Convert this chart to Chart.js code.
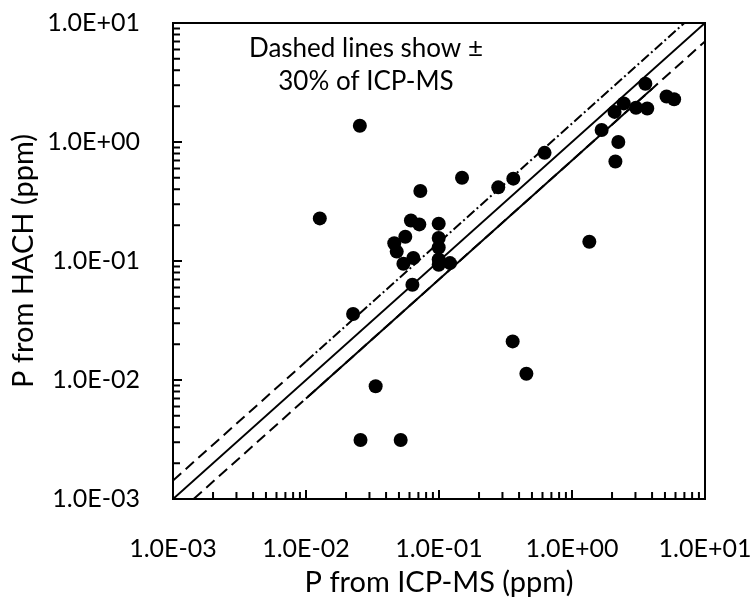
<!DOCTYPE html>
<html>
<head>
<meta charset="utf-8">
<script src="https://cdn.jsdelivr.net/npm/chart.js@4"></script>
<style>
  html, body { margin: 0; padding: 0; background: #fff; }
</style>
</head>
<body>
<canvas id="chart" width="754" height="600"></canvas>
<script>
// P from ICP-MS (x) and P from HACH (y), ppm
const icpValues = [0.0254, 0.0127, 0.0226, 0.0334, 0.0257, 0.0515, 0.0724, 0.149, 0.279, 0.362,
  0.0615, 0.0711, 0.0995, 0.0558, 0.0461, 0.0481, 0.0995, 0.0995, 0.0995, 0.0995,
  0.121, 0.0641, 0.054, 0.0631, 0.358, 0.454, 1.35, 0.622, 1.67, 2.23,
  2.12, 2.09, 2.45, 3.03, 3.68, 3.56, 5.14, 5.86];
const hachValues = [1.37, 0.228, 0.0359, 0.00887, 0.00313, 0.00313, 0.388, 0.501, 0.416, 0.492,
  0.219, 0.203, 0.206, 0.160, 0.141, 0.120, 0.156, 0.130, 0.103, 0.093,
  0.096, 0.106, 0.0948, 0.0632, 0.0211, 0.0113, 0.145, 0.811, 1.26, 1.0,
  0.686, 1.79, 2.11, 1.94, 1.91, 3.09, 2.41, 2.29];

const decadeTicks = [0.001, 0.01, 0.1, 1, 10];
const tickLabels = ['1.0E-03', '1.0E-02', '1.0E-01', '1.0E+00', '1.0E+01'];

// reference lines y = k * x
const upperFactor = 1.43;
const lowerFactor = 0.7;
const axisMin = 0.001, axisMax = 10;

const points = icpValues.map((v, i) => ({x: v, y: hachValues[i]}));
function refLine(k, x0, x1){
  return [{x: x0, y: k * x0}, {x: x1, y: k * x1}];
}
function lineSet(data, dash){
  return {type: 'line', data, borderColor: '#000', borderWidth: 2, borderDash: dash,
    pointRadius: 0, pointHoverRadius: 0, fill: false, tension: 0};
}

const frame = {
  id: 'frame',
  afterDraw(chart){
    const {ctx, chartArea: a, scales: {x, y}} = chart;
    ctx.save();
    ctx.strokeStyle = '#000';
    ctx.lineWidth = 2;
    ctx.strokeRect(a.left, a.top, a.right - a.left, a.bottom - a.top);
    ctx.beginPath();
    for (let e = -3; e < 1; e++) {
      for (let m = 1; m <= 10; m++) {
        const v = m * Math.pow(10, e);
        const len = (m === 1 || m === 10) ? 9 : 7;
        const px = x.getPixelForValue(v);
        ctx.moveTo(px, a.bottom); ctx.lineTo(px, a.bottom - len);
        const py = y.getPixelForValue(v);
        ctx.moveTo(a.left, py); ctx.lineTo(a.left + len, py);
      }
    }
    ctx.stroke();
    ctx.fillStyle = '#000';
    ctx.font = '26px Lato';
    ctx.textAlign = 'center';
    ctx.fillText('Dashed lines show \u00b1', 366, 57);
    ctx.fillText('30% of ICP-MS', 366, 90);
    ctx.restore();
  }
};

const font = {family: 'Lato', size: 25};
const titleFont = {family: 'Lato', size: 29};

new Chart(document.getElementById('chart'), {
  type: 'scatter',
  data: {
    datasets: [
      {data: points, pointRadius: 7, pointHoverRadius: 7, backgroundColor: '#000', borderWidth: 0},
      lineSet(refLine(1, axisMin, axisMax), []),
      lineSet(refLine(upperFactor, axisMin, 0.01), [11, 6]),
      lineSet(refLine(upperFactor, 0.01, axisMax / upperFactor), [10, 3, 2, 3]),
      lineSet(refLine(lowerFactor, axisMin / lowerFactor, axisMax), [11, 6]),
      lineSet(refLine(lowerFactor, 0.01, 4), [])
    ]
  },
  options: {
    responsive: false,
    animation: false,
    devicePixelRatio: 1,
    layout: {padding: {top: 23, right: 49, left: 0, bottom: 0}},
    plugins: {legend: {display: false}, tooltip: {enabled: false}},
    scales: {
      x: {
        type: 'logarithmic', min: axisMin, max: axisMax,
        afterBuildTicks: axis => { axis.ticks = decadeTicks.map(v => ({value: v, major: true})); },
        afterFit: axis => { axis.height = 101; axis.paddingLeft = 0; axis.paddingRight = 0; },
        grid: {display: false},
        border: {display: true, color: '#000', width: 2},
        ticks: {color: '#000', font, padding: 27, maxRotation: 0, autoSkip: false,
          callback: (v, i) => tickLabels[i]},
        title: {display: true, text: 'P from ICP-MS (ppm)', color: '#000',
          font: titleFont, padding: {top: 0, bottom: 0}}
      },
      y: {
        type: 'logarithmic', min: axisMin, max: axisMax,
        afterBuildTicks: axis => { axis.ticks = decadeTicks.map(v => ({value: v, major: true})); },
        afterFit: axis => { axis.width = 173; axis.paddingTop = 0; axis.paddingBottom = 0; },
        grid: {display: false},
        border: {display: true, color: '#000', width: 2},
        ticks: {color: '#000', font, padding: 25, autoSkip: false,
          callback: (v, i) => tickLabels[i]},
        title: {display: true, text: 'P from HACH (ppm)', color: '#000',
          font: titleFont, padding: {top: 6, bottom: 0}}
      }
    }
  },
  plugins: [frame]
});
</script>
</body>
</html>
